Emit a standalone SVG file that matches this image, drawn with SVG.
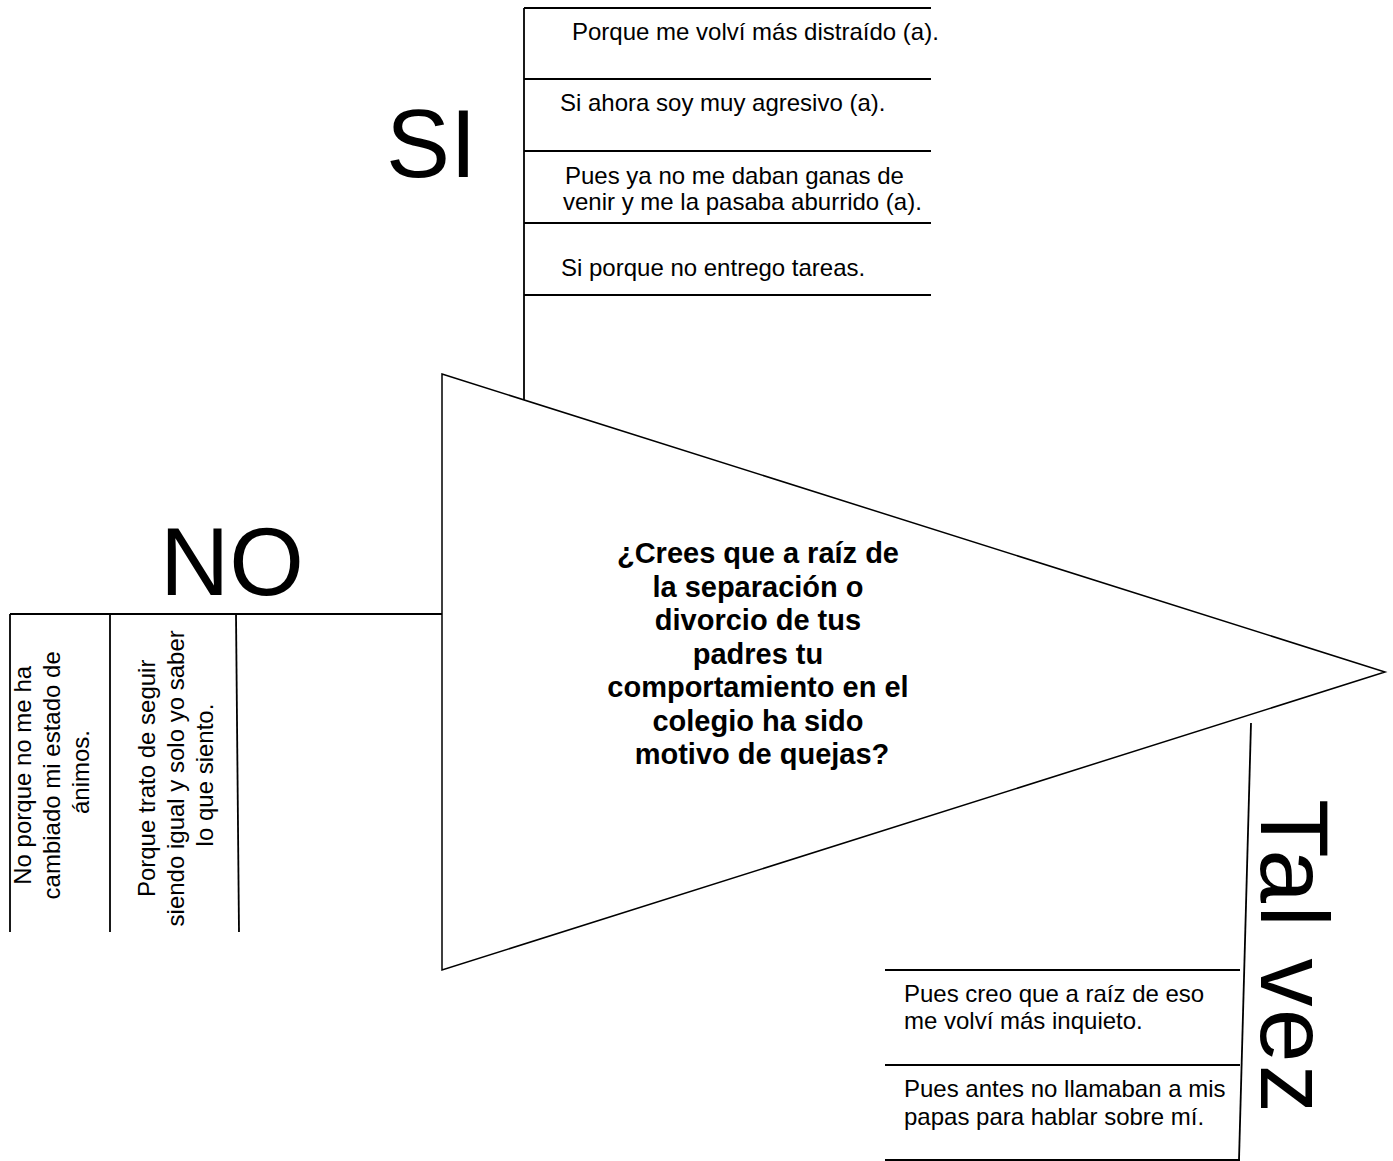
<svg xmlns="http://www.w3.org/2000/svg" width="1393" height="1161" viewBox="0 0 1393 1161">
<style>
.ln{stroke:#000;stroke-width:1.8;fill:none}
.tri{stroke:#000;stroke-width:1.5;fill:#fff}
.t{font-family:"Liberation Sans",Arial,sans-serif;font-size:24px;fill:#000}
.big{font-family:"Liberation Sans",Arial,sans-serif;font-size:96px;fill:#000}
.q{font-family:"Liberation Sans",Arial,sans-serif;font-size:29px;font-weight:bold;fill:#000}
</style>
<rect width="1393" height="1161" fill="#fff"/>
<g id="connectors">
<line class="ln" x1="524" y1="8" x2="524" y2="400"/>
<line class="ln" x1="524" y1="8" x2="931" y2="8"/>
<line class="ln" x1="524" y1="79" x2="931" y2="79"/>
<line class="ln" x1="524" y1="151" x2="931" y2="151"/>
<line class="ln" x1="524" y1="223" x2="931" y2="223"/>
<line class="ln" x1="524" y1="295" x2="931" y2="295"/>
<line class="ln" x1="10" y1="614" x2="442" y2="614"/>
<line class="ln" x1="10" y1="614" x2="10" y2="932"/>
<line class="ln" x1="110" y1="614" x2="110" y2="932"/>
<line class="ln" x1="236" y1="614" x2="239" y2="932"/>
<line class="ln" x1="1251" y1="723" x2="1239" y2="1160"/>
<line class="ln" x1="885" y1="970" x2="1240" y2="970"/>
<line class="ln" x1="885" y1="1065" x2="1240" y2="1065"/>
<line class="ln" x1="885" y1="1160" x2="1240" y2="1160"/>
</g>
<g id="question">
<polygon class="tri" points="442,374 1385,672 442,970"/>
<text class="q" text-anchor="middle">
<tspan x="762" y="563">¿Crees que a raíz de</tspan>
<tspan x="762" y="596.5">la separación o</tspan>
<tspan x="762" y="630">divorcio de tus</tspan>
<tspan x="762" y="663.5">padres tu</tspan>
<tspan x="762" y="697">comportamiento en el</tspan>
<tspan x="762" y="730.5">colegio ha sido</tspan>
<tspan x="762" y="764">motivo de quejas?</tspan>
</text>
</g>
<g id="si">
<text class="big" x="386" y="177">SI</text>
<text class="t" x="572" y="40">Porque me volví más distraído (a).</text>
<text class="t" x="560" y="111">Si ahora soy muy agresivo (a).</text>
<text class="t" x="565" y="184">Pues ya no me daban ganas de</text>
<text class="t" x="563" y="210">venir y me la pasaba aburrido (a).</text>
<text class="t" x="561" y="276">Si porque no entrego tareas.</text>
</g>
<g id="no">
<text class="big" x="160" y="595">NO</text>
<text class="t" text-anchor="middle" transform="translate(31,772) rotate(-90)">
<tspan x="0" y="0">No porque no me ha</tspan>
<tspan x="0" y="29">cambiado mi estado de</tspan>
<tspan x="0" y="58">ánimos.</tspan>
</text>
<text class="t" text-anchor="middle" transform="translate(155,775) rotate(-90)">
<tspan x="0" y="0">Porque trato de seguir</tspan>
<tspan x="0" y="29">siendo igual y solo yo saber</tspan>
<tspan x="0" y="58">lo que siento.</tspan>
</text>
</g>
<g id="talvez">
<text class="big" letter-spacing="2.5" transform="translate(1261,799) rotate(90)">Tal vez</text>
<text class="t" x="904" y="1002">Pues creo que a raíz de eso</text>
<text class="t" x="904" y="1029">me volví más inquieto.</text>
<text class="t" x="904" y="1097">Pues antes no llamaban a mis</text>
<text class="t" x="904" y="1125">papas para hablar sobre mí.</text>
</g>
</svg>
